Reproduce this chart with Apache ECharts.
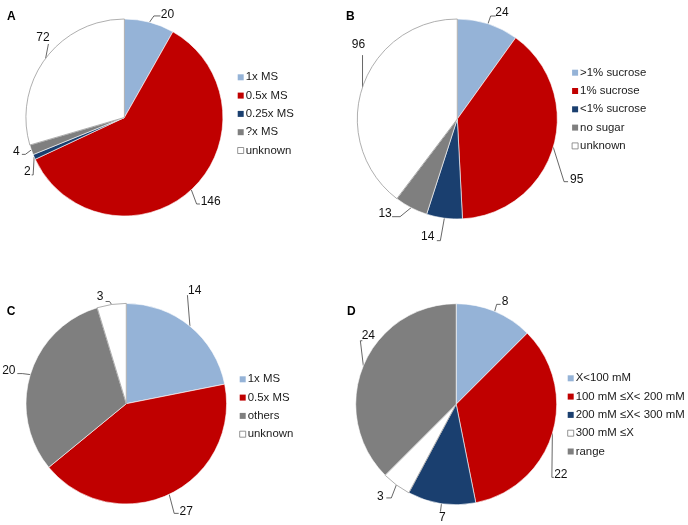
<!DOCTYPE html>
<html><head><meta charset="utf-8">
<script src="https://cdn.jsdelivr.net/npm/echarts@6/dist/echarts.min.js"></script>
<style>html,body{margin:0;padding:0;background:#fff}#c{width:688px;height:525px}</style>
</head><body><div id="c"></div>
<script>
// ---------- data ----------
const panelTitles = ['A', 'B', 'C', 'D'];

const catA = ['1x MS', '0.5x MS', '0.25x MS', '?x MS', 'unknown'];
const valA = [20, 146, 2, 4, 72];

const catB = ['>1% sucrose', '1% sucrose', '<1% sucrose', 'no sugar', 'unknown'];
const valB = [24, 95, 14, 13, 96];

const catC = ['1x MS', '0.5x MS', 'others', 'unknown'];
const valC = [14, 27, 20, 3];

const catD = ['X<100 mM', '100 mM \u2264X< 200 mM', '200 mM \u2264X< 300 mM', '300 mM \u2264X', 'range'];
const valD = [8, 22, 7, 3, 24];

// ---------- styles ----------
const LB = '#95B3D7', RD = '#C00000', DB = '#1A3F6F', GR = '#7F7F7F', WH = '#FFFFFF';
const colA = [LB, RD, DB, GR, WH];
const colB = [LB, RD, DB, GR, WH];
const colC = [LB, RD, GR, WH];
const colD = [LB, RD, DB, WH, GR];

// leader offsets relative to the slice edge point: [seg1 dx, seg1 dy, seg2 dx, label dx, label dy]
const leadA = [[4.4,-6.3,6.5,7,-1.7],[5.3,14.2,3.3,10.8,-2.3],[-1,18,-1.5,-4.2,-3.3],[-6,4.5,-3.5,-5.5,-2.7],[2.8,-14.4,0,-5.5,-6.7]];
const leadB = [[2.7,-7.8,5,6.3,-3.7],[10.8,34.5,4,8.7,-1.7],[-4,22.5,-3.5,-9.2,-3.5],[-11,9,-8,-7,-3],[0,-32,0,-4,-10.7]];
const leadC = [[-2.5,-31,0,7.3,-4],[5,19,4.5,7.6,-2],[-8,-1,-5,-8.5,-3.3],[-2,-3,-4,-5.6,-4.4]];
const leadD = [[2,-7,4,4.5,-3],[-0.5,44,2,7,-3],[-1,8,0,1.8,6.4],[-5,13,-5,-6,-1.6],[-3,-25,2,6,-4.7]];

const FONT = "'Liberation Sans', Arial, sans-serif";
const panels = [
  {cat: catA, val: valA, col: colA, lead: leadA, center: [124.4, 117.5], r: 98.5, title: [7, 10.7], legend: [237.3, 70.3]},
  {cat: catB, val: valB, col: colB, lead: leadB, center: [457.3, 119], r: 100, title: [346, 10.7], legend: [571.7, 65.7]},
  {cat: catC, val: valC, col: colC, lead: leadC, center: [126.3, 403.7], r: 100.3, title: [6.7, 305.3], legend: [239.3, 372.3]},
  {cat: catD, val: valD, col: colD, lead: leadD, center: [456.2, 404.2], r: 100.5, title: [347, 305.3], legend: [567.3, 371.3]}
];

function layoutFor(lead) {
  return function (p) {
    const pts = p.labelLinePoints;
    const L = lead[p.dataIndex];
    if (!pts || !L) return {};
    const p0 = [pts[0][0], pts[0][1]];
    const p1 = [p0[0] + L[0], p0[1] + L[1]];
    const p2 = [p1[0] + L[2], p1[1]];
    return {x: p2[0] + L[3], y: p2[1] + L[4], align: 'center', verticalAlign: 'middle', labelLinePoints: [p0, p1, p2]};
  };
}

const chart = echarts.init(document.getElementById('c'), null, {renderer: 'canvas'});
chart.setOption({
  animation: false,
  backgroundColor: '#fff',
  title: panels.map((pn, i) => ({
    text: panelTitles[i], left: pn.title[0], top: pn.title[1], padding: 0,
    textStyle: {fontSize: 12, fontWeight: 'bold', color: '#000', fontFamily: FONT}
  })),
  legend: panels.map(pn => ({
    orient: 'vertical', left: pn.legend[0], top: pn.legend[1], padding: 0,
    itemWidth: 6, itemHeight: 6, itemGap: 4.3, icon: 'rect', selectedMode: false,
    textStyle: {fontSize: 11.4, lineHeight: 14, color: '#1a1a1a', fontFamily: FONT, padding: [0, 0, 0, -3]},
    data: pn.cat.map((n, i) => ({
      name: n,
      itemStyle: pn.col[i] === WH ? {color: WH, borderColor: '#7a7a7a', borderWidth: 0.8} : {color: pn.col[i], borderWidth: 0}
    }))
  })),
  series: panels.map(pn => ({
    type: 'pie',
    center: pn.center,
    radius: [0, pn.r],
    startAngle: 90,
    clockwise: true,
    avoidLabelOverlap: false,
    silent: true,
    emphasis: {disabled: true},
    itemStyle: {borderColor: '#fff', borderWidth: 0.6},
    label: {show: true, position: 'outside', formatter: '{c}', fontSize: 12, color: '#111', fontFamily: FONT, bleedMargin: 0, distanceToLabelLine: 2},
    labelLine: {show: true, length: 2, length2: 2, smooth: false, lineStyle: {color: '#404040', width: 0.8}},
    labelLayout: layoutFor(pn.lead),
    data: pn.cat.map((n, i) => ({
      name: n, value: pn.val[i],
      itemStyle: pn.col[i] === WH ? {color: WH, borderColor: '#9a9a9a', borderWidth: 0.8} : {color: pn.col[i]}
    }))
  }))
});
</script>
</body></html>
